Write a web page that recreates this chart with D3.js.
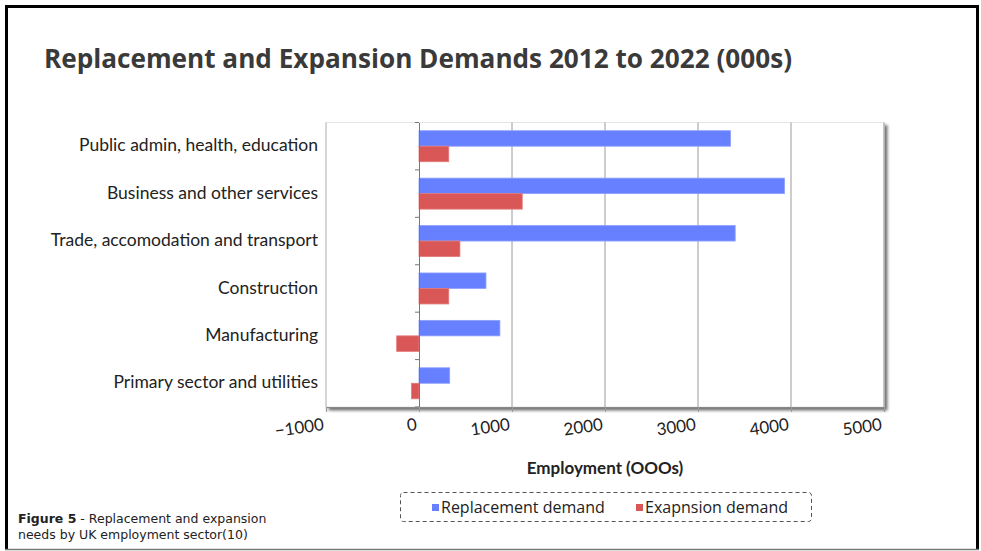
<!DOCTYPE html>
<html>
<head>
<meta charset="utf-8">
<script src="https://cdn.jsdelivr.net/npm/d3@7"></script>
<style>
  html, body { margin: 0; padding: 0; background: #fff; }
  svg { display: block; }
</style>
</head>
<body>
<svg id="chart" width="981" height="551"></svg>
<script>
// Sector categories, top to bottom
const categories = [
  "Public admin, health, education",
  "Business and other services",
  "Trade, accomodation and transport",
  "Construction",
  "Manufacturing",
  "Primary sector and utilities"
];
const seriesNames = ["Replacement demand", "Exapnsion demand"];
// Values in thousands
const replacementDemand = [3350, 3930, 3400, 720, 870, 330];
const expansionDemand = [320, 1110, 440, 320, -240, -80];
const xTicks = [-1000, 0, 1000, 2000, 3000, 4000, 5000];
const seriesColors = ["#6780ff", "#d95757"];

const svg = d3.select("#chart");
const W = 981, H = 551;

// Outer frame
svg.append("rect").attr("x", 0).attr("y", 0).attr("width", W).attr("height", H).attr("fill", "#fff");
svg.append("path")
  .attr("d", "M6.5,550 L6.5,6.5 L977.5,6.5 L977.5,550")
  .attr("fill", "none").attr("stroke", "#000").attr("stroke-width", 3);
svg.append("line").attr("x1", 5).attr("x2", 979).attr("y1", 549.5).attr("y2", 549.5)
  .attr("stroke", "#777").attr("stroke-width", 1.5);

// Title
svg.append("text")
  .attr("x", 44).attr("y", 68)
  .attr("font-family", "'Open Sans', sans-serif")
  .attr("font-weight", 700)
  .attr("font-size", 27)
  .attr("textLength", 748)
  .attr("lengthAdjust", "spacingAndGlyphs")
  .attr("fill", "#3a3a3a")
  .text("Replacement and Expansion Demands 2012 to 2022 (000s)");

// Plot area
const plot = { left: 326, right: 884, top: 122.5, bottom: 407 };

const x = d3.scaleLinear().domain([-1000, 5000]).range([plot.left, plot.right]);
const y0 = d3.scaleBand().domain(categories).range([plot.top, plot.bottom]).paddingInner(0.346).paddingOuter(0.173);
const y1 = d3.scaleBand().domain(seriesNames).range([0, y0.bandwidth()]);

const defs = svg.append("defs");
const shadow = defs.append("filter").attr("id", "plotShadow")
  .attr("x", "-5%").attr("y", "-5%").attr("width", "115%").attr("height", "120%");
shadow.append("feGaussianBlur").attr("in", "SourceAlpha").attr("stdDeviation", 1.8).attr("result", "b");
shadow.append("feOffset").attr("in", "b").attr("dx", 3).attr("dy", 3).attr("result", "o");
shadow.append("feComponentTransfer").attr("in", "o").attr("result", "s")
  .append("feFuncA").attr("type", "linear").attr("slope", 0.55);
const merge = shadow.append("feMerge");
merge.append("feMergeNode").attr("in", "s");
merge.append("feMergeNode").attr("in", "SourceGraphic");

svg.append("rect")
  .attr("x", plot.left).attr("y", plot.top)
  .attr("width", plot.right - plot.left).attr("height", plot.bottom - plot.top)
  .attr("fill", "#fff").attr("stroke", "#e4e4e4").attr("stroke-width", 1)
  .attr("filter", "url(#plotShadow)");

// Vertical gridlines
svg.append("g").selectAll("line")
  .data(xTicks.filter(t => t > 0 && t < 5000))
  .join("line")
  .attr("x1", d => x(d)).attr("x2", d => x(d))
  .attr("y1", plot.top).attr("y2", plot.bottom)
  .attr("stroke", "#9a9a9a").attr("stroke-width", 1);

// Right and left borders
svg.append("line").attr("x1", plot.right).attr("x2", plot.right).attr("y1", plot.top).attr("y2", plot.bottom)
  .attr("stroke", "#999").attr("stroke-width", 1);
svg.append("line").attr("x1", plot.left).attr("x2", plot.left).attr("y1", plot.top).attr("y2", plot.bottom)
  .attr("stroke", "#bbb").attr("stroke-width", 1);

// Bars
const rows = categories.map((c, i) => ({ cat: c, vals: [replacementDemand[i], expansionDemand[i]] }));
const groups = svg.append("g").selectAll("g")
  .data(rows).join("g")
  .attr("transform", d => `translate(0,${y0(d.cat)})`);
groups.selectAll("rect")
  .data(d => d.vals.map((v, j) => ({ v, s: seriesNames[j], j })))
  .join("rect")
  .attr("x", d => x(Math.min(0, d.v)))
  .attr("width", d => Math.abs(x(d.v) - x(0)))
  .attr("y", d => y1(d.s))
  .attr("height", y1.bandwidth())
  .attr("fill", d => seriesColors[d.j])
  .attr("stroke", d => d.j === 0 ? "#8ea0ff" : "#e27a7a")
  .attr("stroke-width", 0.8);

// Category axis at zero
const yAxis = svg.append("g")
  .attr("transform", `translate(${x(0)},0)`)
  .call(d3.axisLeft(y0).tickSize(0).tickFormat(""));
yAxis.select(".domain").attr("stroke", "#777");
svg.append("g").selectAll("line")
  .data(d3.range(categories.length + 1))
  .join("line")
  .attr("x1", x(0) - 4).attr("x2", x(0))
  .attr("y1", i => plot.top + i * (plot.bottom - plot.top) / categories.length)
  .attr("y2", i => plot.top + i * (plot.bottom - plot.top) / categories.length)
  .attr("stroke", "#777");

// Category labels
svg.append("g").selectAll("text")
  .data(categories).join("text")
  .attr("x", 318)
  .attr("y", d => y0(d) + y0.bandwidth() / 2 - 1)
  .attr("dy", "0.35em")
  .attr("text-anchor", "end")
  .attr("font-family", "Lato, sans-serif")
  .attr("font-size", 17.5)
  .attr("fill", "#222")
  .text(d => d);

// Value axis
const xAxis = svg.append("g")
  .attr("transform", `translate(0,${plot.bottom})`)
  .call(d3.axisBottom(x).tickValues(xTicks).tickSize(5).tickFormat(d3.format("d")));
xAxis.select(".domain").attr("stroke", "#888").attr("stroke-width", 1.2);
xAxis.selectAll(".tick line").attr("stroke", "#999");
xAxis.selectAll(".tick text")
  .attr("font-family", "Lato, sans-serif")
  .attr("font-size", 17)
  .attr("fill", "#222")
  .attr("text-anchor", "end")
  .attr("transform", "translate(-2,23) rotate(-8)")
  .attr("y", 0).attr("dy", 0);

// Axis title
svg.append("text")
  .attr("x", 605).attr("y", 474)
  .attr("text-anchor", "middle")
  .attr("font-family", "Lato, sans-serif")
  .attr("font-weight", 700)
  .attr("font-size", 17)
  .attr("fill", "#222")
  .text("Employment (OOOs)");

// Legend
svg.append("rect")
  .attr("x", 400.5).attr("y", 492.5).attr("width", 411).attr("height", 29)
  .attr("rx", 3)
  .attr("fill", "none").attr("stroke", "#555").attr("stroke-dasharray", "4,3");
const legendX = [432, 636];
const legend = svg.append("g").selectAll("g")
  .data(seriesNames).join("g")
  .attr("transform", (d, i) => `translate(${legendX[i]},0)`);
legend.append("rect").attr("x", 0).attr("y", 504).attr("width", 7).attr("height", 7)
  .attr("fill", (d, i) => seriesColors[i]);
legend.append("text").attr("x", 9).attr("y", 513)
  .attr("font-family", "'Open Sans', sans-serif")
  .attr("font-size", 16)
  .attr("fill", "#222")
  .text(d => d);

// Caption
const cap = svg.append("text")
  .attr("font-family", "'DejaVu Sans', sans-serif")
  .attr("font-size", 12.5)
  .attr("fill", "#222");
cap.append("tspan").attr("x", 18).attr("y", 523).attr("font-weight", 700).text("Figure 5");
cap.append("tspan").text(" - Replacement and expansion");
cap.append("tspan").attr("x", 18).attr("y", 539).text("needs by UK employment sector(10)");
</script>
</body>
</html>
